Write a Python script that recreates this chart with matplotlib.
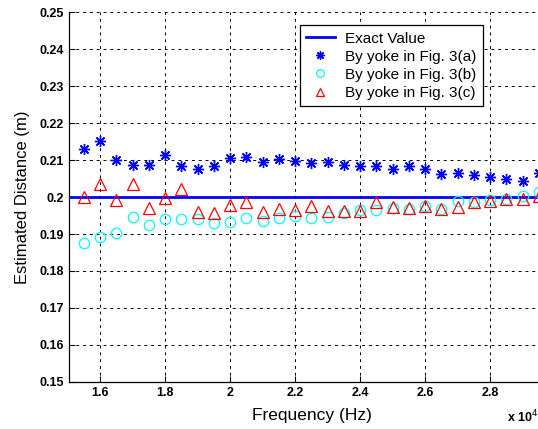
import numpy as np
import matplotlib
matplotlib.use("Agg")
import matplotlib.pyplot as plt
from matplotlib.ticker import FixedLocator

# frequency points (Hz)
freq = np.arange(15500, 30000, 500)

exact_value = 0.2

# By yoke in Fig. 3(a)
dist_a = [0.2131, 0.2151, 0.2100, 0.2086, 0.2086, 0.2113, 0.2084, 0.2077, 0.2084, 0.2105,
          0.2108, 0.2095, 0.2104, 0.2097, 0.2093, 0.2095, 0.2086, 0.2084, 0.2084, 0.2077,
          0.2084, 0.2077, 0.2063, 0.2066, 0.2059, 0.2054, 0.2048, 0.2043, 0.2066]
# By yoke in Fig. 3(b)
dist_b = [0.1875, 0.1892, 0.1904, 0.1947, 0.1924, 0.1940, 0.1940, 0.1940, 0.1931, 0.1933,
          0.1944, 0.1934, 0.1943, 0.1949, 0.1944, 0.1946, 0.1958, 0.1965, 0.1965, 0.1971,
          0.1967, 0.1976, 0.1969, 0.1989, 0.1986, 0.1991, 0.1996, 0.2003, 0.2014]
# By yoke in Fig. 3(c)
dist_c = [0.2001, 0.2036, 0.1991, 0.2036, 0.1971, 0.1998, 0.2021, 0.1960, 0.1958, 0.1978,
          0.1986, 0.1959, 0.1968, 0.1965, 0.1976, 0.1962, 0.1961, 0.1963, 0.1987, 0.1974,
          0.1971, 0.1976, 0.1969, 0.1974, 0.1987, 0.1990, 0.1996, 0.1995, 0.2003]

xticks = [16000, 18000, 20000, 22000, 24000, 26000, 28000]
xticklabels = ['1.6', '1.8', '2', '2.2', '2.4', '2.6', '2.8']
yticks = [0.15, 0.16, 0.17, 0.18, 0.19, 0.2, 0.21, 0.22, 0.23, 0.24, 0.25]
yticklabels = ['0.15', '0.16', '0.17', '0.18', '0.19', '0.2', '0.21', '0.22', '0.23', '0.24', '0.25']

plt.rcParams['font.family'] = ['Liberation Sans', 'DejaVu Sans']

fig = plt.figure(figsize=(5.38, 4.29), dpi=100)
ax = fig.add_axes([0.1288, 0.1103, 0.9028, 0.8606])

ax.axhline(exact_value, color='#0000ff', linewidth=2.0, label='Exact Value', zorder=3)
ax.plot(freq, dist_a, linestyle='none', marker=(8, 2, 0), markersize=8, color='#0000ff',
        markeredgewidth=1.0, label='By yoke in Fig. 3(a)', zorder=4)
ax.plot(freq, dist_b, linestyle='none', marker='o', markersize=7.5, markerfacecolor='none',
        markeredgecolor='#00ffff', markeredgewidth=0.9, label='By yoke in Fig. 3(b)', zorder=4)
ax.plot(freq, dist_c, linestyle='none', marker='^', markersize=8.5, markerfacecolor='none',
        markeredgecolor='#ff0000', markeredgewidth=0.9, label='By yoke in Fig. 3(c)', zorder=4)

ax.set_xlim(15055, 30000)
ax.set_ylim(0.15, 0.25)
ax.xaxis.set_major_locator(FixedLocator(xticks))
ax.yaxis.set_major_locator(FixedLocator(yticks))
ax.set_xticklabels(xticklabels, fontsize=9, fontweight='bold')
ax.set_yticklabels(yticklabels, fontsize=9, fontweight='bold')
ax.tick_params(direction='in', length=4, width=0.8, pad=4)

ax.grid(True, color='black', linestyle=(0, (3, 4)), linewidth=0.7)
ax.set_axisbelow(True)

ax.spines['top'].set_visible(False)
ax.spines['right'].set_visible(False)
for s in ['left', 'bottom']:
    ax.spines[s].set_linewidth(0.9)

ax.set_xlabel('Frequency (Hz)', fontsize=12.5, labelpad=6)
ax.set_ylabel('Estimated Distance (m)', fontsize=12, labelpad=7)
fig.text(0.942, 0.008, r'x 10$^4$', fontsize=9, fontweight='bold', ha='left', va='bottom')

leg = ax.legend(loc='upper left', bbox_to_anchor=(0.474, 0.965), fontsize=11, frameon=True,
                fancybox=False, edgecolor='black', framealpha=1, borderpad=0.4,
                labelspacing=0.27, handlelength=1.9, handletextpad=0.7, borderaxespad=0,
                markerscale=0.75)
leg.get_frame().set_linewidth(0.9)

fig.savefig('out.png', dpi=100)
